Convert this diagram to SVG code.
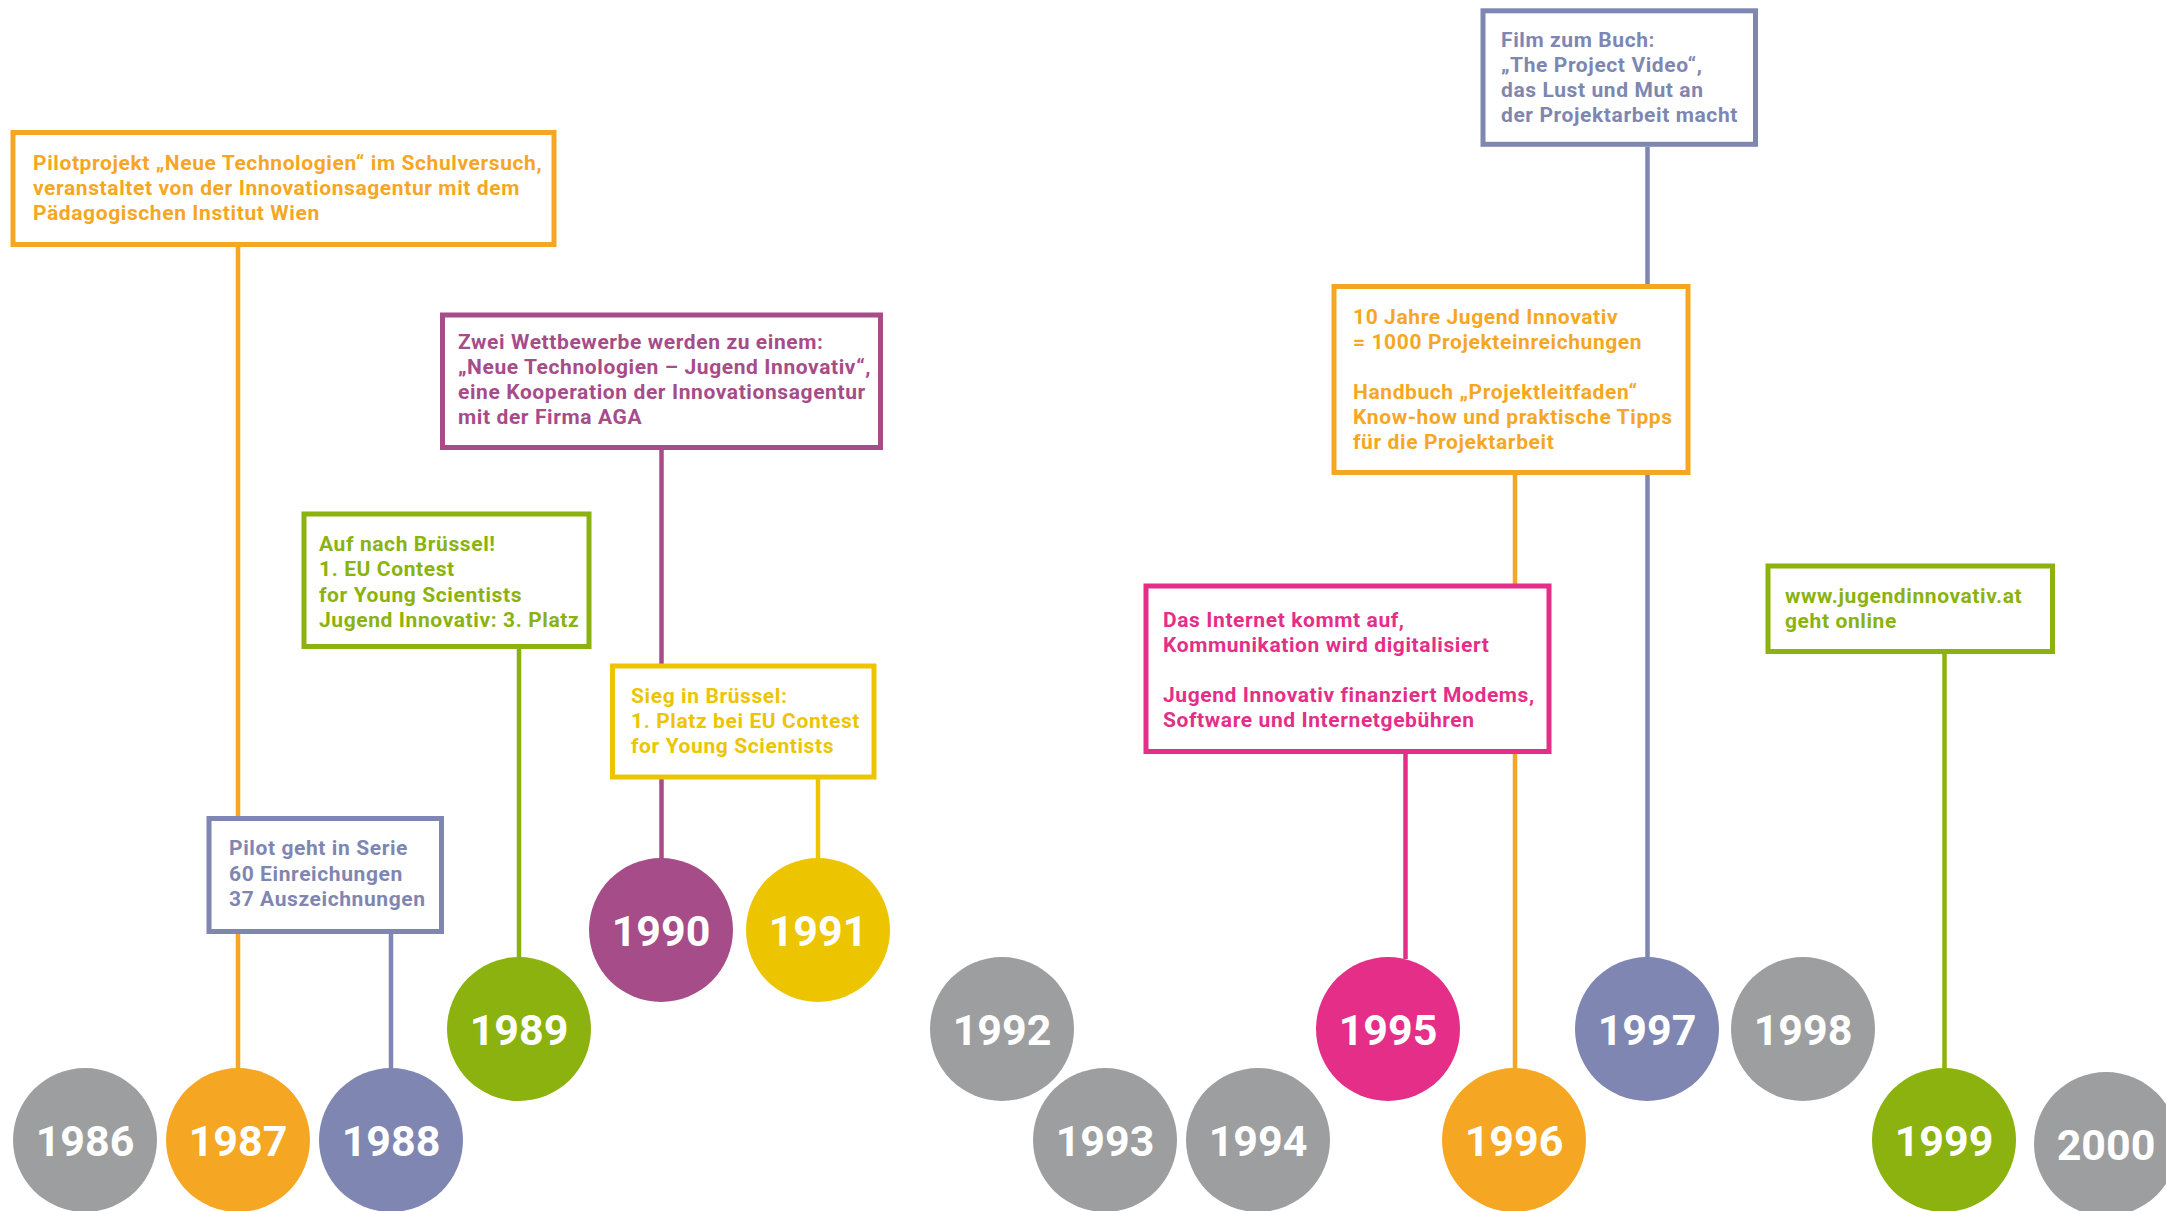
<svg xmlns="http://www.w3.org/2000/svg" width="2166" height="1211" viewBox="0 0 2166 1211">
<style>
.box{fill:#fff;stroke-width:5}
.lbl{font-family:Roboto,"Liberation Sans",sans-serif;font-weight:700;font-size:21px;letter-spacing:0.6px}
.yr{font-family:Roboto,"Liberation Sans",sans-serif;font-weight:700;font-size:43px;fill:#fff;text-anchor:middle}
.ln{stroke-width:4.5;fill:none}
.or{stroke:#F5A724}.orf{fill:#F5A724}
.bl{stroke:#7E86B1}.blf{fill:#7E86B1}
.gr{stroke:#8BB20E}.grf{fill:#8BB20E}
.pu{stroke:#A64C89}.puf{fill:#A64C89}
.ye{stroke:#ECC500}.yef{fill:#ECC500}
.pk{stroke:#E42E88}.pkf{fill:#E42E88}
.gy{fill:#9D9E9F}
</style>
<rect width="2166" height="1211" fill="#fff"/>
<g id="connectors">
<line class="ln or" x1="238" y1="247" x2="238" y2="1070"/>
<line class="ln bl" x1="391" y1="934" x2="391" y2="1070"/>
<line class="ln gr" x1="519" y1="649" x2="519" y2="959"/>
<line class="ln pu" x1="661.5" y1="450" x2="661.5" y2="860"/>
<line class="ln ye" x1="818" y1="779" x2="818" y2="860"/>
<line class="ln pk" x1="1405.5" y1="754" x2="1405.5" y2="959"/>
<line class="ln or" x1="1515" y1="475" x2="1515" y2="1070"/>
<line class="ln bl" x1="1647.5" y1="147" x2="1647.5" y2="959"/>
<line class="ln gr" x1="1944.5" y1="654" x2="1944.5" y2="1070"/>
</g>
<g id="box-1986">
<rect class="box or" x="13" y="132.5" width="541" height="112"/>
<text class="lbl orf"><tspan x="33" y="170">Pilotprojekt „Neue Technologien“ im Schulversuch,</tspan><tspan x="33" y="195">veranstaltet von der Innovationsagentur mit dem</tspan><tspan x="33" y="220">Pädagogischen Institut Wien</tspan></text>
</g>
<g id="box-1988">
<rect class="box bl" x="209" y="818.5" width="232.5" height="113"/>
<text class="lbl blf"><tspan x="229" y="855">Pilot geht in Serie</tspan><tspan x="229" y="880.5">60 Einreichungen</tspan><tspan x="229" y="906">37 Auszeichnungen</tspan></text>
</g>
<g id="box-1989">
<rect class="box gr" x="304" y="514" width="285" height="132.5"/>
<text class="lbl grf"><tspan x="319" y="550.5">Auf nach Brüssel!</tspan><tspan x="319" y="576">1. EU Contest</tspan><tspan x="319" y="601.5">for Young Scientists</tspan><tspan x="319" y="626.5">Jugend Innovativ: 3. Platz</tspan></text>
</g>
<g id="box-1990">
<rect class="box pu" x="442.5" y="315" width="438" height="132.5"/>
<text class="lbl puf"><tspan x="458" y="349">Zwei Wettbewerbe werden zu einem:</tspan><tspan x="458" y="374">„Neue Technologien – Jugend Innovativ“,</tspan><tspan x="458" y="399">eine Kooperation der Innovationsagentur</tspan><tspan x="458" y="424">mit der Firma AGA</tspan></text>
</g>
<g id="box-1991">
<rect class="box ye" x="612.5" y="666" width="261.5" height="111"/>
<text class="lbl yef"><tspan x="631" y="703">Sieg in Brüssel:</tspan><tspan x="631" y="728">1. Platz bei EU Contest</tspan><tspan x="631" y="753">for Young Scientists</tspan></text>
</g>
<g id="box-1997">
<rect class="box bl" x="1483" y="10.8" width="272.5" height="133.5"/>
<text class="lbl blf"><tspan x="1501" y="46.5">Film zum Buch:</tspan><tspan x="1501" y="71.5">„The Project Video“,</tspan><tspan x="1501" y="96.5">das Lust und Mut an</tspan><tspan x="1501" y="121.5">der Projektarbeit macht</tspan></text>
</g>
<g id="box-1996">
<rect class="box or" x="1334" y="286.5" width="354" height="186"/>
<text class="lbl orf"><tspan x="1353" y="323.5">10 Jahre Jugend Innovativ</tspan><tspan x="1353" y="348.5">= 1000 Projekteinreichungen</tspan><tspan x="1353" y="399">Handbuch „Projektleitfaden“</tspan><tspan x="1353" y="424">Know-how und praktische Tipps</tspan><tspan x="1353" y="449">für die Projektarbeit</tspan></text>
</g>
<g id="box-1995">
<rect class="box pk" x="1146" y="586" width="403" height="165.5"/>
<text class="lbl pkf"><tspan x="1163" y="627">Das Internet kommt auf,</tspan><tspan x="1163" y="652">Kommunikation wird digitalisiert</tspan><tspan x="1163" y="702">Jugend Innovativ finanziert Modems,</tspan><tspan x="1163" y="727">Software und Internetgebühren</tspan></text>
</g>
<g id="box-1999">
<rect class="box gr" x="1768" y="566" width="284.5" height="85.5"/>
<text class="lbl grf"><tspan x="1785" y="603">www.jugendinnovativ.at</tspan><tspan x="1785" y="627.5">geht online</tspan></text>
</g>
<g id="y1986"><circle class="gy" cx="85" cy="1140" r="72"/><text class="yr" x="85" y="1156">1986</text></g>
<g id="y1987"><circle class="orf" cx="238" cy="1140" r="72"/><text class="yr" x="238" y="1156">1987</text></g>
<g id="y1988"><circle class="blf" cx="391" cy="1140" r="72"/><text class="yr" x="391" y="1156">1988</text></g>
<g id="y1989"><circle class="grf" cx="519" cy="1029" r="72"/><text class="yr" x="519" y="1045">1989</text></g>
<g id="y1990"><circle class="puf" cx="661" cy="930" r="72"/><text class="yr" x="661" y="946">1990</text></g>
<g id="y1991"><circle class="yef" cx="818" cy="930" r="72"/><text class="yr" x="818" y="946">1991</text></g>
<g id="y1992"><circle class="gy" cx="1002" cy="1029" r="72"/><text class="yr" x="1002" y="1045">1992</text></g>
<g id="y1993"><circle class="gy" cx="1105" cy="1140" r="72"/><text class="yr" x="1105" y="1156">1993</text></g>
<g id="y1994"><circle class="gy" cx="1258" cy="1140" r="72"/><text class="yr" x="1258" y="1156">1994</text></g>
<g id="y1995"><circle class="pkf" cx="1388" cy="1029" r="72"/><text class="yr" x="1388" y="1045">1995</text></g>
<g id="y1996"><circle class="orf" cx="1514" cy="1140" r="72"/><text class="yr" x="1514" y="1156">1996</text></g>
<g id="y1997"><circle class="blf" cx="1647" cy="1029" r="72"/><text class="yr" x="1647" y="1045">1997</text></g>
<g id="y1998"><circle class="gy" cx="1803" cy="1029" r="72"/><text class="yr" x="1803" y="1045">1998</text></g>
<g id="y1999"><circle class="grf" cx="1944" cy="1140" r="72"/><text class="yr" x="1944" y="1156">1999</text></g>
<g id="y2000"><circle class="gy" cx="2106" cy="1144" r="72"/><text class="yr" x="2106" y="1160">2000</text></g>
</svg>
